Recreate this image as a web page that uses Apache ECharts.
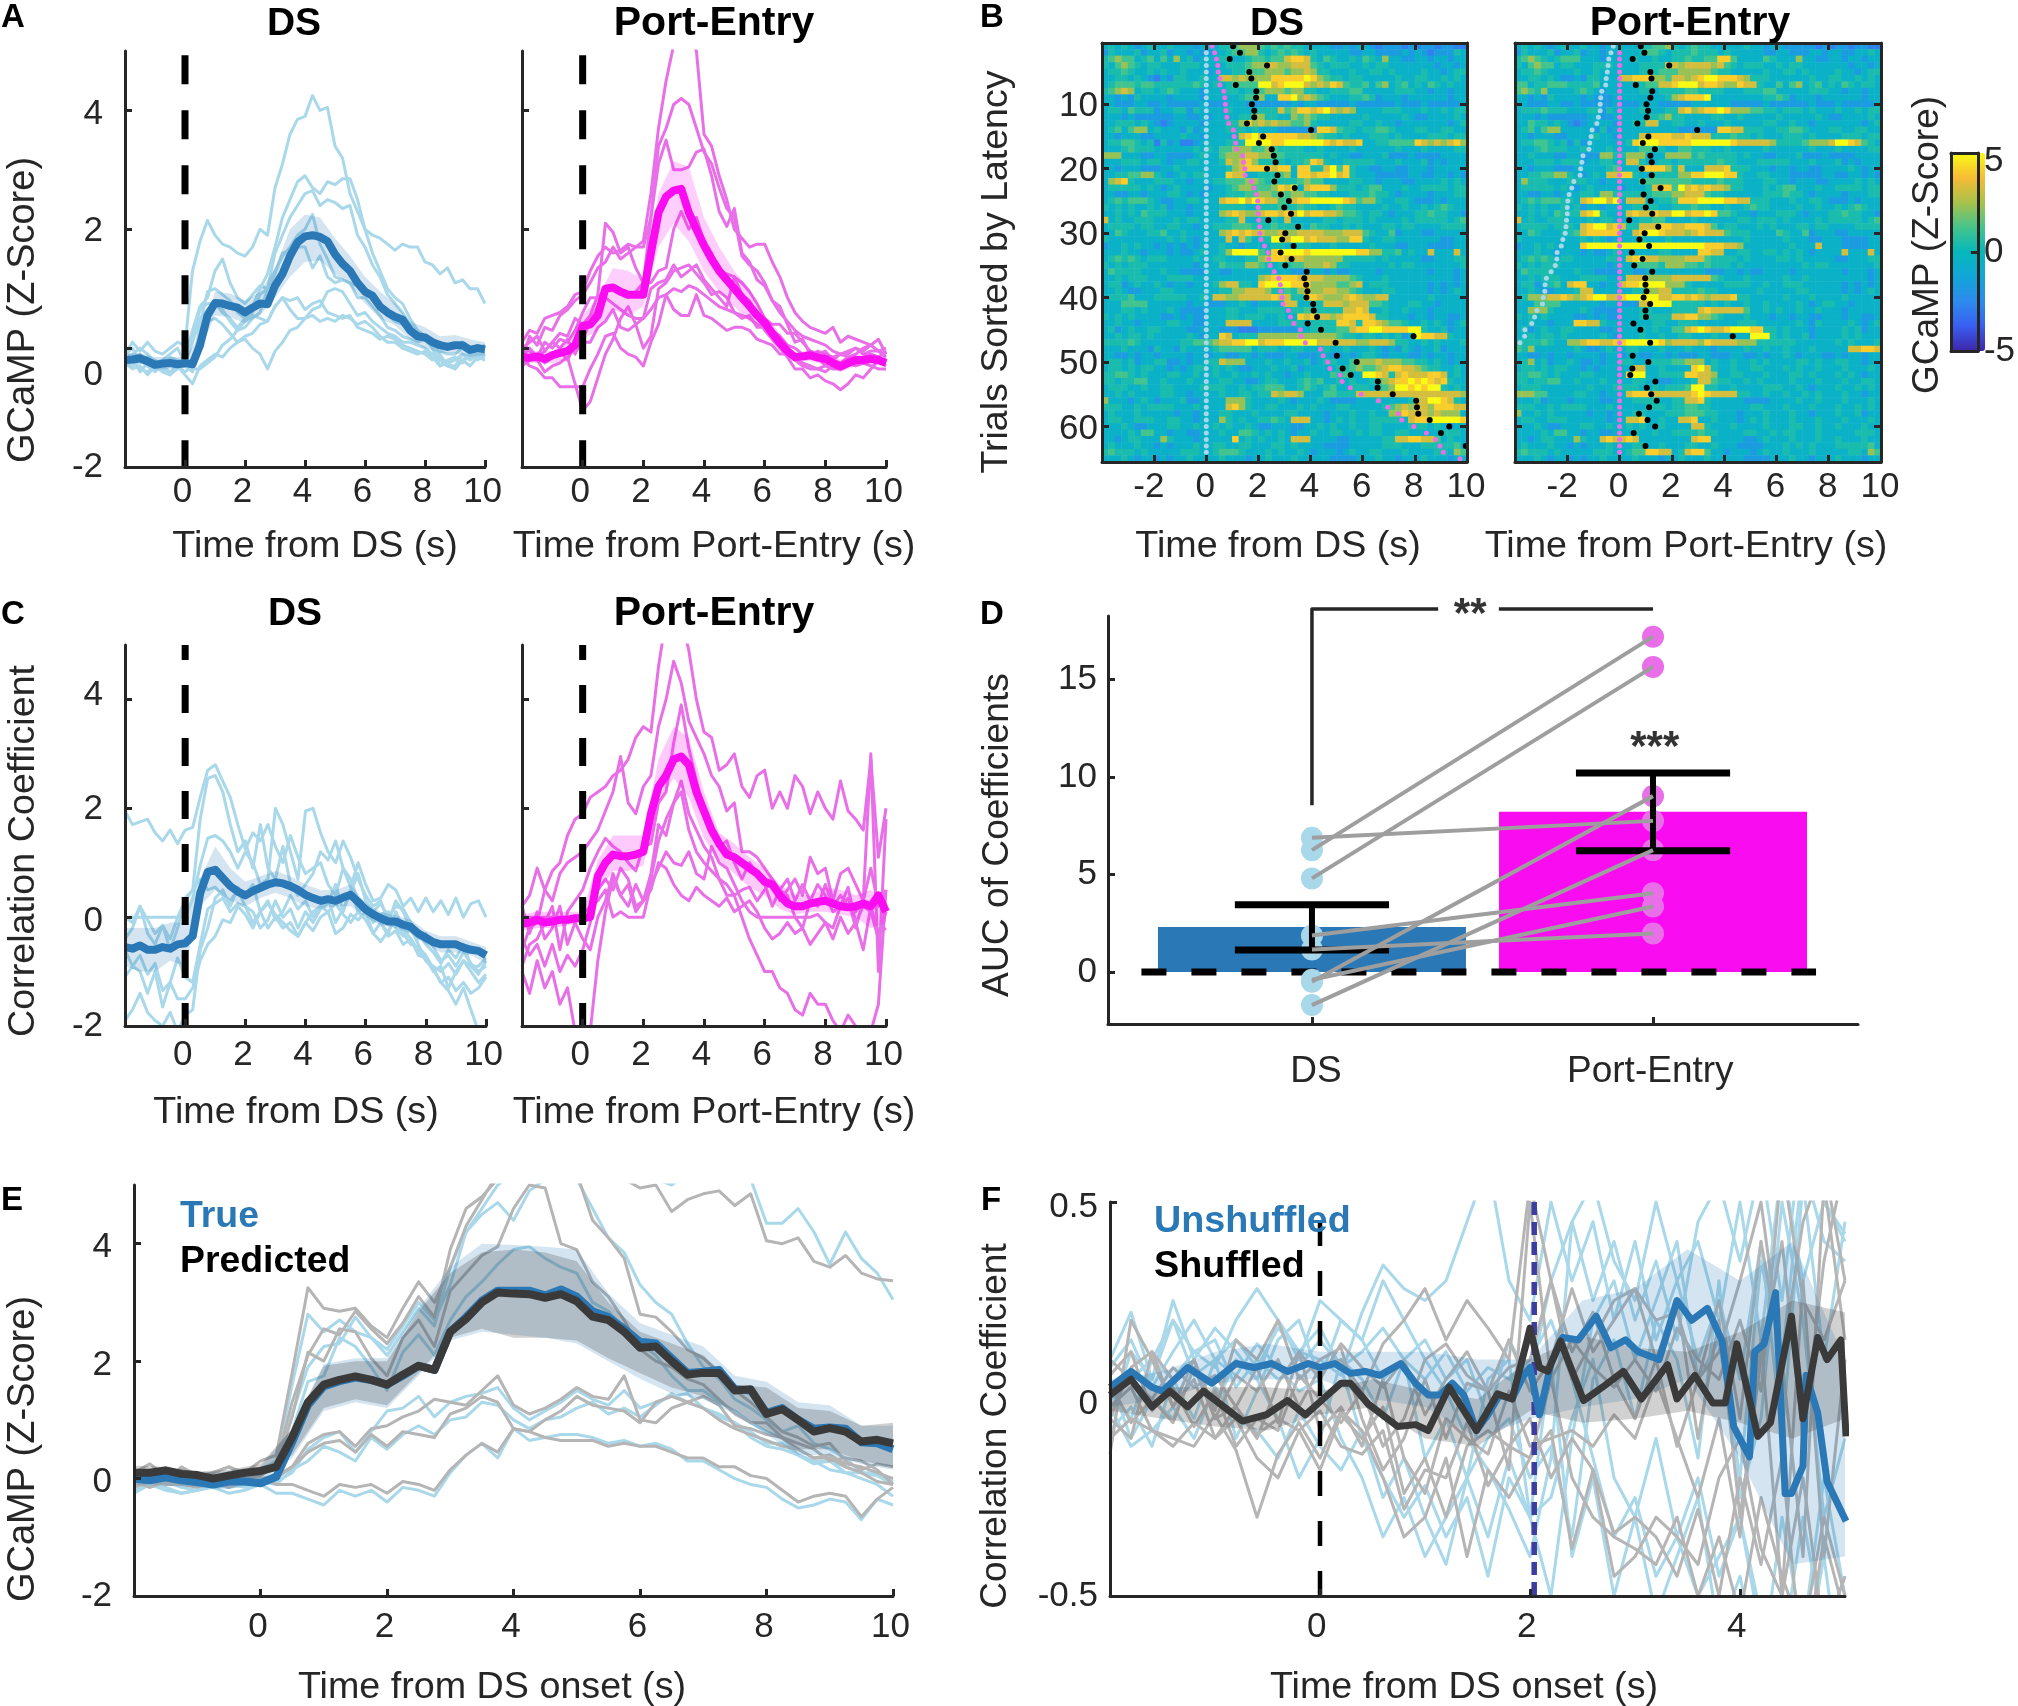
<!DOCTYPE html>
<html><head><meta charset="utf-8">
<style>html,body{margin:0;padding:0;background:#fff}#c{width:2018px;height:1706px}</style>
<script src="https://cdn.jsdelivr.net/npm/echarts@6/dist/echarts.min.js"></script>
</head><body><div id="c"></div>
<script>
// ---- shared tick labels and time bases
const timeQ=[-2,-1.75,-1.5,-1.25,-1,-.75,-.5,-.25,0,.25,.5,.75,1,1.25,1.5,1.75,2,2.25,2.5,2.75,3,3.25,3.5,3.75,4,4.25,4.5,4.75,5,5.25,5.5,5.75,6,6.25,6.5,6.75,7,7.25,7.5,7.75,8,8.25,8.5,8.75,9,9.25,9.5,9.75,10];
const timeH=[-2,-1.5,-1,-.5,0,.5,1,1.5,2,2.5,3,3.5,4,4.5,5,5.5,6,6.5,7,7.5,8,8.5,9,9.5,10];
const timeF=[-2,-1.8,-1.6,-1.4,-1.2,-1,-.8,-.6,-.4,-.2,0,.2,.4,.6,.8,1,1.2,1.4,1.6,1.8,2,2.2,2.4,2.6,2.8,3,3.2,3.4,3.6,3.8,4,4.2,4.4,4.6,4.8,5];
const timeFB=[-2,-1.5,-1,-.5,0,.5,1,1.5,2,2.5,3,3.5,4,4.5,5];
const ticksTime=[0,2,4,6,8,10];
const ticksTimeB=[-2,0,2,4,6,8,10];
const ticksZ=[-2,0,2,4];
const ticksTrials=[10,20,30,40,50,60];
// where each tick label sits on its axis (the reference's labels are slightly off their ticks)
const labelsAtTimeAC=[-.08,1.92,3.92,5.92,7.92,9.92];
const labelsAtTimeE=[-.04,1.96,3.96,5.96,7.96,9.96];
const labelsAtTimeF=[-.03,1.97,3.97];
const labelsAtTimeB=[-2.2,-.04,1.96,3.96,5.96,7.96,9.96];
const labelsAtZA=[-2,-.45,1.97,3.93];
const labelsAtZC=[-2,-.07,1.98,4.08];
const labelsAtZE=[-2,-.07,1.93,3.93];
const labelsAtTrials=[10.4,20.4,30.4,40.4,50.4,60.4];

// ---- panel A, DS
const a1Mean=[-.2,-.19,-.17,-.22,-.28,-.26,-.25,-.27,-.25,-.27,.05,.55,.76,.75,.71,.68,.6,.68,.75,.74,1.05,1.25,1.55,1.78,1.88,1.9,1.87,1.8,1.58,1.42,1.3,1.1,.95,.88,.7,.6,.53,.48,.3,.2,.18,.1,.05,.02,.05,.05,-.03,0,-.02];
const a1Lo=[-.28,-.25,-.36,-.35,-.33,-.05,.55,.52,.42,.55,.85,1.2,1.45,1.48,1.25,1.05,.75,.5,.38,.15,0,-.08,-.08,-.15,-.12];
const a1Hi=[-.1,-.08,-.15,-.15,-.15,.2,.95,.92,.8,.95,1.35,2.0,2.25,2.2,1.85,1.55,1.2,.95,.75,.45,.35,.2,.22,.15,.1];
const a1Tr1=[-.1,.1,-.05,.1,-.05,-.1,0,.1,.05,1.3,1.8,2.15,1.9,1.75,1.7,1.6,1.55,1.7,2,1.9,2.7,3.1,3.6,3.85,3.9,4.25,4,4.05,3.4,3.2,2.6,2.3,2,1.9,1.85,1.75,1.65,1.75,1.7,1.7,1.45,1.4,1.25,1.35,1.1,1.15,1,1,.75];
const a1Tr2=[-.2,-.1,0,-.1,-.25,-.2,-.1,0,-.25,.1,.5,.65,.75,.6,.5,.35,.5,.7,1,1.25,1.7,2.2,2.5,2.8,2.9,2.7,2.6,2.8,2.75,2.85,2.85,2.5,2,1.6,1.3,1,.85,.75,.5,.3,.2,0,-.2,-.3,-.35,-.2,-.3,-.15,-.2];
const a1Tr3=[0,-.2,-.1,-.3,-.3,-.35,-.15,-.2,-.3,-.4,.4,.95,1,.9,.8,.6,.5,.6,.9,1,1.6,1.9,2.2,2.4,2.6,2.65,2.4,2.5,2.45,2.35,2.4,1.9,1.7,1.4,1.2,.9,.75,.6,.4,.3,.2,.1,-.1,-.3,-.3,-.1,-.15,0,0];
const a1Tr4=[-.1,0,-.25,-.15,-.2,-.3,-.2,-.3,-.15,.3,.7,.85,1.3,1.5,1.1,.85,.75,.9,1.05,1,1.3,1.55,1.7,1.9,2,2.25,1.75,1.5,1.2,1.15,1.1,1.05,1,.8,.65,.55,.45,.4,.3,.25,.2,.05,.1,0,0,.1,-.05,.05,0];
const a1Tr5=[-.15,-.2,-.35,-.4,-.3,-.35,-.45,-.3,-.4,-.3,.1,.45,.5,.4,.25,.1,.15,0,-.1,-.35,-.05,.1,.3,.35,.5,.65,.7,.95,1,.95,.75,.55,.6,.45,.35,.25,.2,.1,.1,.05,0,-.1,-.15,-.25,-.2,-.1,-.2,-.1,-.15];
const a1Tr6=[-.2,-.3,-.2,-.3,-.4,-.3,-.4,-.3,-.45,-.6,-.3,-.2,-.1,-.15,0,.1,.2,.25,.4,.45,.7,.85,.8,.85,.65,.75,.8,.6,.55,.5,.55,.35,.3,.25,.15,.2,.15,.05,0,-.05,-.1,-.2,-.05,-.1,-.1,0,-.1,0,.05];
const a1Tr7=[-.3,-.15,-.4,-.25,-.35,-.3,-.25,-.35,-.3,-.35,-.35,-.25,-.15,.05,.15,.3,.45,.55,.5,.45,.7,.85,.65,.5,.5,.55,.45,.5,.45,.55,.5,.4,.45,.35,.2,.1,.1,0,-.05,-.1,-.05,-.15,-.3,-.2,-.15,-.25,-.1,-.1,-.1];
const a1Tr8=[-.25,-.35,-.3,-.45,-.3,-.4,-.45,-.35,-.25,.2,.65,.75,.75,.65,.45,.3,.35,.5,.6,1,1.25,1.6,1.65,1.7,1.7,1.35,1.55,1.2,1.1,1.15,1.1,.85,.85,.7,.55,.35,.3,.2,.15,.1,.15,0,-.3,-.25,-.35,-.2,-.1,-.2,-.1];

// ---- panel A, Port-Entry
const a2Mean=[-.15,-.16,-.14,-.18,-.12,-.08,-.05,.05,.37,.4,.55,1,1.02,.95,.9,.9,.9,1.6,2.28,2.55,2.65,2.68,2.28,2,1.73,1.5,1.3,1.15,1,.85,.71,.55,.43,.25,.09,-.05,-.15,-.14,-.12,-.16,-.18,-.25,-.31,-.25,-.2,-.2,-.18,-.2,-.25];
const a2Lo=[-.25,-.25,-.25,-.2,.15,.3,.65,.55,.7,1.7,2.1,1.8,1.3,.95,.7,.45,.35,.05,-.2,-.22,-.28,-.4,-.3,-.28,-.3];
const a2Hi=[-.05,-.05,-.05,.12,.55,.85,1.35,1.3,1.15,2.6,3.15,3.05,2.2,1.7,1.3,1.0,.55,.25,-.1,-.02,-.08,-.2,-.1,-.08,-.15];
const a2Tr1=[.1,.3,.25,.5,.55,.6,.7,.9,.95,1.3,1.55,1.7,1.6,1.65,1.75,1.7,1.8,2.6,3.7,4.5,5.1,5.5,5.3,5,3.6,3.4,2.9,2.5,2,1.85,1.7,1.75,1.75,1.45,1.2,.85,.6,.45,.35,.3,.25,.35,.1,.2,.15,.1,.05,.15,-.1];
const a2Tr2=[-.2,.2,.05,.35,.3,.55,.65,.8,.9,1.1,1.35,1.45,1.7,1.5,1.6,1.7,1.7,2.2,3.4,3.7,4.1,4.2,4.1,3.7,3.3,3.1,2.7,2.35,2.2,1.55,1.4,1.3,1.1,.8,.6,.45,.3,.2,.15,.1,.05,-.05,-.1,-.1,0,-.05,.05,-.05,0];
const a2Tr3=[-.15,0,-.15,.1,0,.15,.1,.3,.6,.85,.85,1,1.05,.95,.85,.95,1.1,2.2,3.1,3.5,3,3,3.05,3.3,3.35,2.9,2.3,2.05,2.35,1.6,1.45,1.15,1.05,.8,.7,.4,.1,.15,-.1,-.15,-.3,-.35,-.35,-.25,-.3,-.25,-.2,-.2,-.25];
const a2Tr4=[0,-.05,-.15,-.05,.1,.25,.2,.5,.4,.55,.9,2.1,1.95,1.6,1.7,1.35,1.1,1.1,1.3,1.35,2,2.3,2,2.2,1.8,1.6,1.3,1.25,1.2,1.1,.95,.75,.5,.4,.4,.25,.25,.1,-.05,-.1,-.05,-.2,-.1,-.15,-.1,0,.05,-.05,-.15];
const a2Tr5=[-.3,-.2,-.1,-.25,-.15,-.05,-.2,.05,.1,.1,.35,.45,.65,.35,.3,.4,.5,1,1.1,1.15,1.4,1.2,1.3,1.4,1.15,1,.85,.7,1.2,.9,.8,.55,.3,.15,0,-.15,-.35,-.35,-.5,-.45,-.55,-.6,-.7,-.6,-.45,-.5,-.35,-.2,-.3];
const a2Tr6=[-.1,-.2,-.2,-.4,-.3,-.25,-.15,-.6,-1.05,-.9,-.5,-.1,.15,.5,.7,.4,0,.2,1,1.1,1.3,1.35,1.4,1.25,1.1,.9,.95,.85,.6,.5,.55,.35,.35,.2,.1,-.05,-.2,-.25,-.3,-.35,-.4,-.3,-.35,-.3,-.2,-.15,-.1,-.15,-.05];
const a2Tr7=[-.15,-.3,-.35,-.5,-.5,-.65,-.65,-.65,-.65,-.35,-.1,.2,.25,0,-.1,-.15,-.3,.1,.4,.9,.65,.55,.55,.9,.55,.5,.4,.3,.35,.35,.3,.15,.1,.05,-.1,-.1,-.2,-.3,-.35,-.35,-.3,-.2,-.25,-.15,-.2,-.25,-.3,-.35,-.35];
const a2Tr8=[0,.1,.2,-.05,.1,0,.15,-.1,.15,.45,.7,.85,.75,.65,.55,.5,.5,.65,.85,.9,1,.95,1.05,1,.9,.8,.7,.65,.6,.55,.5,.4,.35,.3,.2,.05,0,-.1,-.15,-.05,-.1,-.15,-.1,-.05,0,-.1,-.05,-.05,-.1];

// ---- panel C, DS
const c1Mean=[-.55,-.58,-.52,-.6,-.6,-.55,-.58,-.5,-.48,-.35,.44,.83,.87,.72,.57,.47,.4,.48,.54,.6,.64,.62,.57,.5,.41,.35,.3,.33,.3,.36,.41,.28,.14,.05,-.02,-.08,-.08,-.14,-.18,-.3,-.38,-.46,-.5,-.5,-.5,-.56,-.6,-.62,-.7];
const c1Lo=[-.9,-1,-1,-.8,-.9,.2,.5,.3,.2,.35,.45,.35,.2,.15,.2,.2,0,-.15,-.2,-.3,-.5,-.65,-.65,-.7,-.85];
const c1Hi=[-.2,-.2,-.2,-.1,-.1,.7,1.3,.9,.65,.75,.85,.75,.6,.5,.5,.6,.25,.1,.03,-.05,-.25,-.35,-.35,-.45,-.55];
const c1Tr1=[1.95,1.7,1.75,1.8,1.55,1.4,1.6,1.35,1.6,1.65,2.2,2.7,2.8,2.5,2.2,1.7,1.25,1.55,1.4,1.7,1.3,1,1.5,1.1,.8,.9,1,.6,.4,.9,.7,.3,.2,0,-.1,-.3,.1,-.2,-.4,-.6,-.8,-.95,-1.2,-1.35,-1.6,-1.3,-1.7,-2.1,-2.2];
const c1Tr2=[0,0,0,0,0,0,0,0,0,.35,.95,1.45,1.5,1.4,1.2,.9,1.2,1,.6,.7,2,1.7,1.2,.7,1.95,2,1.55,1.2,1,1.4,1.1,.7,.4,.2,.3,-.1,.3,.1,-.25,-.4,-.3,-.55,-.8,-.7,-.9,-.65,-.85,-1,-.9];
const c1Tr3=[0,-.1,.2,-.05,-.3,-.15,-.4,0,.3,.5,1.8,2.55,2.6,2.3,1.7,1.2,1.4,.9,1.7,.9,.7,1.3,.6,.4,.6,.8,1.2,1.05,1.4,.9,.55,1,.6,.3,.35,.6,.5,.2,.35,.1,.35,.1,.3,.05,.35,0,.25,.3,0];
const c1Tr4=[-.6,-.9,-.7,-1.05,-.85,-1.35,-1.2,-.75,-1.1,-1.2,-.5,.15,.25,.35,.1,.25,.2,.1,-.2,-.05,.3,0,.15,-.2,.1,-.1,.15,.25,.6,.1,.5,.1,.2,-.1,.05,.1,-.2,-.35,-.2,-.5,-.8,-.9,-1,-.85,-1.05,-.8,-1,-1.2,-1.05];
const c1Tr5=[-1.9,-1.7,-1.4,-1.75,-1.9,-2,-1.75,-2.1,-1.8,-1.7,-.6,-.2,.35,.5,.2,.55,.4,.6,.1,.3,-.05,.1,.4,.15,.3,0,.2,.1,.25,.05,-.1,.1,-.05,-.3,-.1,-.35,-.25,-.5,-.4,-.7,-.75,-1,-.9,-1.3,-1,-.8,-.9,-1.05,-.8];
const c1Tr6=[-1.1,-.9,-1,-1.4,-1,-1.65,-1.2,-1.5,-1.5,-1.3,-.8,-.5,-.35,-.05,-.1,.2,.05,-.2,.1,.25,.05,-.1,-.25,-.35,-.1,-.25,0,.1,-.3,-.2,.05,-.05,.1,-.3,-.45,-.25,-.05,-.3,-.5,-.55,-.7,-.95,-1.2,-1.1,-1.35,-1.2,-1.4,-1.3,-1.1];
const c1Tr7=[-.4,-.2,.2,-.3,-.5,-.15,-.6,-.2,.35,.5,.7,.5,.55,.4,.3,.5,.2,-.1,.1,-.2,0,-.2,-.1,-.35,-.1,.1,.2,.35,-.1,.15,.45,.8,.3,.1,.25,0,.2,.15,-.1,-.3,-.5,-.65,-.85,-.6,-.75,-.5,-.9,-.9,-.75];

// ---- panel C, Port-Entry
const c2Mean=[-.12,-.1,-.05,-.1,-.08,-.05,-.05,-.02,-.02,0,.75,1.0,1.15,1.12,1.12,1.15,1.2,1.9,2.4,2.6,2.9,2.95,2.8,2.3,1.95,1.6,1.35,1.15,1.1,1.0,.9,.8,.65,.6,.4,.25,.2,.2,.25,.28,.3,.25,.2,.18,.2,.25,.2,.4,.1];
const c2Lo=[-.25,-.2,-.2,-.15,-.1,.45,.85,.85,.95,2.1,2.55,2.2,1.45,1.05,.8,.55,.4,.15,.05,.1,.1,.05,0,-.2,-.1];
const c2Hi=[.05,.1,.1,.1,.1,1.05,1.5,1.5,1.5,2.9,3.5,3.3,2.3,1.55,1.35,1.1,.9,.6,.4,.4,.55,.5,.4,.5,.3];
const c2Tr1=[.2,.4,.9,.5,.85,1,1.5,1.8,1.9,2.2,2.3,2.4,2.6,2.7,2.9,3.3,3.5,3.4,4.6,5.5,6,5.5,4.9,4,3.4,3.3,2.7,2.8,3,2.4,2.2,2.6,2.7,2,2.3,2,2.6,2.4,1.9,2.3,2,1.8,2.5,1.95,1.8,1.6,2.9,1.1,2];
const c2Tr2=[-.6,-.2,-.1,.5,.3,.8,1,1.1,1.2,1.4,1.6,1.95,2.3,2.95,2.1,1.9,2.4,2.6,3.5,4,4.7,4.3,3.6,3.3,3,2.6,2.4,1.95,2.1,1.2,1.2,1.1,.9,.7,.5,.7,.3,.6,.3,.2,.6,.2,.4,.2,.1,.3,.9,.2,.5];
const c2Tr3=[-.9,-.5,-.4,-.1,.2,-.6,.1,.3,.5,.9,1.2,1.45,1.3,1.2,1,.85,1.3,1.35,2.1,2.3,3.2,3.9,3.1,2.5,2,1.6,1.3,1.4,1,.7,1,.8,.6,.2,.5,.4,0,-.2,.3,.6,.4,.1,.2,.55,-.1,.2,.1,-.4,.1];
const c2Tr4=[-1,-1.4,-.8,-1.3,-1,-1.6,-1.3,-2.1,-2.2,-2.1,-.8,.1,.7,.4,.2,.6,.3,.7,1.4,1.8,2.1,2.5,1.9,1.6,1.3,1.1,.7,.4,.4,0,-.4,-.7,-1,-1,-1.3,-1.4,-1.7,-1.8,-1.4,-1.6,-1.6,-1.9,-2.1,-1.8,-2,-2.2,-2.1,-1.6,.5];
const c2Tr5=[0,0,0,0,0,0,0,0,.05,.2,.3,.5,0,.1,0,0,0,.6,.9,1.2,1,.95,1.2,.8,.7,1.3,1,.9,.6,.3,.1,0,0,0,0,0,0,0,0,.05,-.1,-.2,.2,.35,-.2,.3,.1,-.3,.1];
const c2Tr6=[-.4,-.7,-.5,-.9,-.5,-1,-.7,-.9,-.6,-.1,.5,.7,.5,.9,.7,.2,.3,.5,1,.9,.6,.4,.3,.55,.4,.3,.2,.35,.1,.2,.3,.1,-.2,-.4,-.3,-.1,-.3,-.2,-.5,-.3,-.1,-.4,0,-.3,-.1,-.6,.2,-.3,-.2];
const c2Tr7=[.2,-.3,.1,-.4,-.2,.2,-.5,-.1,-.4,-.6,0,.3,.8,.4,.6,.1,.3,.8,1.7,1.5,2.1,2.3,1.6,1.2,1,.85,.7,.6,.4,.5,.55,.3,.5,.7,.3,.5,.7,.4,1.1,.8,.9,.3,.8,.9,.6,.3,3,-1,1.8];

// ---- panel D
const dXTicks=[0,1];
const dXLabelsAt=[.012,.992];
const dXLabels=['DS','Port-Entry'];
const dYTicks=[0,5,10,15];
const dBars=[2.31,8.22];
const dErrLo=[1.12,6.22];
const dErrHi=[3.45,10.2];
const dPointsDS=[6.25,4.8,6.88,-.5,-1.7,1.87,1.15,-.4];
const dPointsPE=[17.2,15.65,7.75,9.02,6.25,4.04,1.97,3.36];

// ---- panel E
const eTrueMean=[0,-.03,.02,-.03,-.06,-.1,-.05,-.05,-.08,.03,.62,1.25,1.57,1.66,1.72,1.68,1.6,1.75,1.92,1.85,2.5,2.75,3.03,3.2,3.2,3.2,3.12,3.22,3.1,2.85,2.75,2.55,2.33,2.3,2.05,1.8,1.82,1.85,1.52,1.5,1.12,1.2,1,.85,.87,.85,.62,.6,.5];
const ePredMean=[.1,.1,.14,.08,.06,0,.05,.1,.13,.2,.7,1.3,1.6,1.68,1.74,1.68,1.6,1.77,1.92,1.85,2.5,2.72,3,3.17,3.15,3.14,3.08,3.14,3.02,2.76,2.7,2.5,2.23,2.25,2,1.77,1.8,1.8,1.5,1.52,1.1,1.18,1,.8,.86,.8,.63,.66,.6];
const eTrueHi=[.15,.12,.1,.12,.2,.85,1.95,2.05,2.05,2.9,3.6,4,3.98,3.95,3.9,3.15,2.65,2.45,2.25,1.75,1.65,1.3,1.25,.9,.9];
const eTrueLo=[-.12,-.12,-.15,-.18,-.05,.35,1.15,1.3,1.2,1.75,2.35,2.5,2.45,2.4,2.3,2.0,1.7,1.45,1.35,1.1,.75,.4,.4,.25,.15];
const ePredHi=[.22,.2,.12,.15,.25,.85,1.92,2,2,2.85,3.5,3.85,3.9,3.85,3.7,3,2.5,2.3,2.1,1.6,1.55,1.2,1.15,.9,.95];
const ePredLo=[0,-.02,-.08,-.05,.02,.4,1.2,1.35,1.25,1.8,2.4,2.55,2.4,2.4,2.35,2.05,1.8,1.55,1.4,1.15,.8,.5,.5,.3,.2];
const eTrue1=[-.15,0,-.1,.05,-.05,0,.1,0,.15,.3,1.6,2.8,2.5,2.7,2.5,2.4,2.2,2.6,3,2.7,3.3,4.2,4.6,5,5.2,5.4,5.6,5.4,5.3,5.1,5.1,5.2,5.2,5.1,5,5.2,5.4,5.5,5.2,5.1,4.35,4.35,4.6,4.2,3.65,4.2,3.75,3.5,3.05];
const ePred1=[-.05,.1,-.05,.2,.05,.1,.2,.1,.3,.4,1.8,3.25,2.9,2.85,2.9,2.6,2.4,2.9,3.35,3,3.6,4.3,4.75,5.2,5.4,5.6,5.8,5.7,5.5,5.2,5.1,5.1,4.95,5,4.55,4.75,4.85,4.9,4.65,4.85,4.05,4,4.1,3.7,3.6,3.8,3.5,3.4,3.37];
const eTrue2=[-.1,.05,.1,-.05,-.1,-.05,0,.05,-.1,.1,1.1,1.9,2.25,2.3,2.75,2.4,2.1,2.5,2.9,2.6,3.6,4.2,4.5,4.7,4.4,4.9,5.1,5.2,5.1,4.6,4.1,3.85,3.3,3,2.8,2.3,1.9,1.7,1.35,1.2,1,.8,.9,.6,.5,.35,.1,.05,0];
const ePred2=[.1,.25,.05,.15,-.05,.1,.2,.05,.1,.25,1.3,2.1,2.55,2.45,2.85,2.55,2.3,2.65,3.1,2.75,3.9,4.6,4.8,5.1,5.3,5.1,5.2,5.4,5.2,4.4,4.1,3.75,2.8,2.75,2.5,2.2,2.05,1.8,1.5,1.3,1.05,.8,.7,.55,.6,.3,.15,.25,.2];
const eTrue3=[-.05,-.15,-.05,-.15,-.2,-.1,-.15,-.1,-.05,.1,.8,1.65,1.75,2.4,2.25,1.9,1.5,2.15,2.45,2.1,2.7,3.1,3.35,3.65,3.9,3.95,3.75,3.6,3.5,3,2.85,2.55,2.3,2.1,1.75,1.5,1.5,1.3,1.15,.95,.8,.7,.4,.25,.3,.1,0,-.1,-.3];
const ePred3=[.1,0,.05,0,-.05,.05,0,.1,.05,.2,1.05,2.15,2,2.55,2.5,2.05,1.75,2.4,2.7,2.25,3.2,3.5,3.8,3.95,4.6,5,4.95,4,3.9,3.35,3.1,2.7,2.2,2,1.9,1.7,1.6,1.35,1.1,.95,.95,.7,.5,.35,.35,.2,.1,-.05,-.1];
const eTrue4=[-.2,-.1,-.15,-.25,-.2,-.1,-.15,-.05,-.1,-.05,.1,.5,.7,.8,.45,.8,1.15,1.2,1.4,1.05,1.3,1.4,1.45,1.55,1.2,1,1.15,1.3,1.5,1.35,1.25,1.5,1.2,1.3,1.4,1.45,1.2,1.1,.95,.8,.6,.6,.4,.3,.15,.1,.1,.1,-.05];
const ePred4=[-.05,-.15,-.05,-.1,-.1,-.05,-.05,.05,0,.05,.2,.6,.75,.8,.55,.85,.9,1.05,1.15,1.35,1.3,1.25,1.5,1.75,1.25,1.1,1.2,1.35,1.55,1.4,1.35,1.75,1,.95,1.2,1.3,1.4,1.25,.9,.85,.75,.7,.6,.5,.3,.35,.3,.15,-.1];
const eTrue5=[-.1,0,-.1,-.05,-.15,-.15,-.1,-.15,-.05,-.1,.15,.3,.55,.45,.3,.7,.5,.75,.9,.75,1,1.05,1.3,1.25,1,.85,1,1.05,1.2,1.3,1.1,1.2,1.05,1.25,1.45,1.3,1.2,1.05,.95,.7,.55,.5,.4,.3,.3,.2,.1,.05,-.1];
const ePred5=[0,.05,-.05,0,-.1,-.05,-.05,-.1,0,0,.2,.45,.6,.65,.45,.75,.55,.8,.75,.7,1.1,1.2,1.4,1.3,.85,.8,1,1.15,1.4,1.25,1.2,1.15,.95,1.3,1.4,1.3,1.2,1,.85,.75,.65,.55,.5,.35,.4,.25,.2,.1,0];
const eTrue6=[-.25,-.1,-.2,-.25,-.2,-.15,-.25,-.2,-.1,-.25,-.25,-.35,-.45,-.2,-.3,-.2,-.4,-.15,-.2,-.3,.1,.4,.6,.35,.85,.65,.7,.75,.75,.7,.6,.65,.55,.6,.5,.3,.3,.15,0,-.1,-.15,-.35,-.5,-.45,-.35,-.4,-.7,-.35,-.45];
const ePred6=[-.15,-.05,-.1,-.1,-.15,-.05,-.15,-.05,0,-.1,-.1,-.2,-.3,-.1,-.15,-.1,-.25,-.05,-.1,-.2,.15,.4,.6,.45,.85,.8,.7,.65,.65,.65,.55,.6,.55,.55,.45,.35,.35,.2,.2,.05,0,-.2,-.4,-.3,-.25,-.3,-.65,-.35,-.15];

// ---- panel F
const fUTime=[-2,-1.8,-1.6,-1.5,-1.26,-1.03,-.8,-.63,-.46,-.31,-.11,0,.14,.29,.43,.57,.77,.91,1.03,1.14,1.26,1.37,1.49,1.6,1.71,1.83,1.94,2,2.09,2.2,2.31,2.46,2.63,2.77,2.91,3.03,3.23,3.4,3.54,3.69,3.83,3.94,4.09,4.14,4.23,4.34,4.43,4.49,4.6,4.63,4.74,4.83,5.01];
const fUVal=[.03,.07,.03,.02,.08,.04,.09,.08,.09,.07,.09,.08,.09,.065,.07,.06,.09,.04,.01,.01,.04,.01,-.08,-.04,.01,0,.06,.08,-.04,.09,.156,.15,.21,.13,.15,.12,.1,.25,.2,.23,.147,-.07,-.147,.12,.14,.27,-.24,-.24,-.17,.06,-.035,-.21,-.31];
const fSTime=[-2,-1.8,-1.6,-1.43,-1.26,-1.11,-.74,-.51,-.31,-.14,.03,.2,.29,.46,.74,.91,1.03,1.23,1.49,1.69,1.83,1.97,2,2.09,2.17,2.29,2.51,2.69,2.89,3.06,3.31,3.4,3.57,3.74,3.86,3.97,4.17,4.29,4.49,4.6,4.74,4.83,4.96,5.01];
const fSVal=[.01,.05,-.02,.02,-.02,.02,-.056,-.04,-.004,-.04,0,.04,.04,-.013,-.07,-.065,-.08,.03,-.08,.013,0,.147,.18,.08,.07,.147,-.004,.03,.07,0,.087,0,.06,-.01,-.01,.14,-.095,-.06,.21,-.05,.156,.1,.15,-.095];
const fULo=[-.02,0,.04,.05,.05,0,-.02,-.1,-.05,-.02,0,.05,-.15,-.42,-.4];
const fUHi=[.05,.07,.12,.14,.12,.12,.12,.1,.1,.25,.28,.38,.3,.4,.1];
const fSLo=[-.03,-.05,-.07,-.08,-.04,-.02,-.1,-.12,-.03,-.06,-.05,-.03,-.06,-.1,-.05];
const fSHi=[.04,.03,.03,.03,.02,.05,.02,0,.1,.16,.13,.12,.17,.25,.22];
const fB1=[-.05,.12,.05,.2,.06,.1,.15,.08,.18,.12,.1,.06,.22,.34,.28,.25,.3,.45,.6,.3,.2,.5,.3,.45,.2,.4,.15,.3,.1,.25,.05,.4,-.1,.55,.1,.45];
const fB2=[.02,-.05,.1,.05,.12,.08,.2,.28,.2,.12,.18,.08,-.1,-.2,-.3,-.22,-.35,-.25,-.45,-.2,-.3,.1,-.4,-.2,-.5,-.3,-.55,-.4,-.25,-.6,-.45,-.7,-.3,-.6,-.2,-.5];
const fB3=[.1,.22,.05,.25,.1,.18,.12,.05,.2,.1,.25,.2,.15,.05,.1,.15,.05,.1,-.05,.15,.05,.3,.45,.55,.35,.25,.5,.3,.4,.2,.5,.15,.6,.3,.5,.4];
const fB4=[-.08,-.02,-.12,.05,-.05,.1,-.1,.02,.15,.2,.05,-.1,-.2,-.35,-.25,-.4,-.3,-.2,-.35,-.15,-.3,-.25,-.05,.1,-.2,-.3,-.1,-.35,-.2,-.45,-.3,-.6,-.5,-.7,-.4,-.8];
const fB5=[.05,-.1,0,-.05,.08,-.02,.1,.05,-.05,-.2,-.1,.1,.05,-.05,.1,-.15,-.05,-.2,.05,.1,-.3,-.5,-.1,.2,.3,.1,.25,.4,.05,.15,-.2,.35,.1,.6,.4,.35];
const fB6=[0,.05,.1,.2,.12,.15,.03,.1,.05,.08,.15,.08,.12,.18,.1,.05,.12,.02,.08,.05,.1,.2,.05,-.15,-.35,-.25,-.45,-.35,-.5,-.4,-.3,-.55,-.65,-.3,-.6,-.45];
const fB7=[-.02,-.12,-.08,-.02,-.1,.03,-.05,-.08,-.15,-.03,-.12,-.18,-.08,-.25,-.15,-.3,-.42,-.2,-.1,-.05,-.2,-.12,-.35,.05,.15,-.05,.2,.1,-.15,.3,-.25,-.05,.5,.2,-.3,-.1];
const fB8=[.08,.15,.03,.12,.2,.1,.06,.14,.08,.02,.05,.2,.15,.3,.2,.1,.02,-.1,-.18,-.28,-.4,-.15,.45,.25,.4,.2,.35,.15,.45,.55,.35,.6,.25,.7,.5,.42];
const fG1=[-.14,.2,.1,-.02,.1,-.05,.06,.02,.1,-.02,.08,.1,.02,.14,.2,.28,.15,.25,.18,.1,.55,.3,.05,.15,.25,.28,.2,.22,.05,.12,.3,.5,.1,.45,.6,.3];
const fG2=[-.02,.03,-.08,-.1,-.12,-.04,-.13,-.3,-.14,-.06,-.15,-.03,-.08,-.2,-.35,-.3,-.15,-.4,-.18,-.25,-.15,.05,-.2,-.3,-.35,-.38,-.42,-.3,-.5,-.35,-.55,-.25,-.45,-.6,-.3,-.5];
const fG3=[-.05,.08,.12,.05,.1,-.03,.15,.1,.2,.05,.1,.13,-.05,-.18,-.1,.05,-.1,.04,.02,.08,.1,.3,.12,.22,.05,-.05,.1,-.12,.05,.25,-.05,.4,.1,-.4,.55,.15];
const fG4=[-.1,-.05,-.08,-.12,-.06,-.1,-.02,-.09,-.05,-.08,-.03,-.12,-.14,-.08,-.28,-.18,-.2,-.06,-.22,-.12,-.15,-.08,-.38,-.18,-.45,-.4,-.3,-.35,-.42,-.2,-.1,-.38,-.5,-.2,-.6,-.45];
const fG5=[.1,.05,0,.08,.03,.06,-.02,.08,-.06,.12,.05,.14,.08,.03,.1,-.04,.05,.12,.02,.15,.02,.1,.28,.12,.2,.28,.1,.25,-.1,.2,-.3,.1,.4,-.1,.35,.6];
const fG6=[.04,-.06,0,-.06,.08,-.05,-.02,-.1,.04,.12,-.08,-.02,-.12,.05,-.15,-.24,-.05,-.1,-.14,.02,-.12,-.1,-.08,-.12,-.04,-.1,.05,-.1,-.25,-.05,-.35,.15,-.5,.3,-.4,.1];
const fG7=[.06,.12,-.03,.03,-.07,.02,-.12,-.05,-.08,.06,0,-.06,.02,-.12,-.05,.1,.14,.06,.02,-.18,.5,.05,.15,.08,.03,.1,.02,.18,.1,.05,.2,.02,.6,.25,.15,.3];
const fG8=[-.05,-.1,.12,-.02,.05,-.1,-.05,-.15,-.2,-.08,-.18,-.04,-.1,-.02,-.24,-.15,-.3,-.12,-.08,-.12,-.05,-.2,-.1,-.18,-.34,-.3,-.35,-.45,-.28,-.5,-.2,-.42,-.15,-.7,-.35,-.55];

// ---- panel B, sorted-trial events
const b1Black=[1.03,1.29,.9,2.33,1.65,1.73,1.13,1.92,1.91,1.75,1.84,1.84,1.56,4.02,2.18,2.02,2.51,2.59,2.66,2.33,2.73,2.61,3.39,2.86,3.17,2.99,3.25,2.38,3.52,3.03,2.91,3.35,2.85,3.27,3.03,3.85,3.76,3.83,3.88,3.84,4.1,4.12,4.25,3.89,4.4,7.95,4.96,null,5.01,5.77,5.23,5.54,6.58,6.57,7.15,8.05,8.08,8.13,8.57,9.32,9,null,9.95,null,null];
const b1Pink=[.22,.32,.39,.44,.46,.52,.52,.67,.71,.73,.75,.79,.86,1.04,1.07,1.13,1.16,1.39,1.43,1.48,1.49,1.73,1.83,1.92,1.97,1.99,2,2.01,2.05,2.06,2.1,2.23,2.37,2.4,2.45,2.61,2.78,2.84,2.85,2.91,2.94,3.15,3.23,3.36,3.61,3.63,3.8,4.38,4.48,4.66,4.74,5.13,5.21,5.52,5.94,6.6,6.96,7.37,7.5,7.96,8.44,8.79,8.96,9.09,9.73];
const b2Black=[.81,.95,.5,1.9,1.18,1.22,.62,1.25,1.18,1.03,1.09,1.04,.68,2.97,1.1,.89,1.35,1.18,1.23,.85,1.23,.89,1.57,.92,1.19,1,1.25,.37,1.48,.96,.76,1.13,.47,.88,.56,1.25,.98,.99,1.03,.92,1.17,.99,1.01,.53,.8,4.33,1.17,null,.5,1.1,.49,.41,1.37,1.04,1.21,1.42,1.13,.74,1.07,1.36,.54,null,.99,null,null];
const b2Blue=[-.24,-.33,-.41,-.44,-.47,-.51,-.53,-.68,-.72,-.74,-.74,-.81,-.87,-1.05,-1.09,-1.14,-1.17,-1.4,-1.44,-1.49,-1.51,-1.75,-1.83,-1.93,-1.98,-2,-2,-2.03,-2.05,-2.08,-2.17,-2.23,-2.39,-2.4,-2.46,-2.62,-2.8,-2.85,-2.86,-2.92,-2.95,-3.16,-3.25,-3.36,-3.62,-3.63,-3.81];

// ---- panel B heat rows: one digit per 0.25 s from -4 s to 10 s, digits index heatLevels
const heatLevels=[-3.75,-2.8,-1.7,-.5,.4,1.2,2.3,3.2,4.1,5];
const heatDS=[
"34343234 33433323 33445666 54545443 33322323 32122212 12212211",
"24333423 34233232 23345566 43454543 43333322 33222232 32122243",
"45655345 35363423 33443345 54557887 43543343 54363322 33233233",
"43565434 43334443 33344456 67766777 54344433 43443333 33323323",
"34454334 34334333 23334455 56665667 64433343 34434333 34332344",
"33443432 13244334 33776766 66888889 86544344 33333433 44334343",
"34555455 44444454 34345555 99789997 67687544 53563453 43543433",
"45676344 34543332 33344344 56665664 43344455 33333444 33233233",
"33232433 33233332 33333455 63388967 65433344 54233323 33333233",
"33222332 23222223 22233322 22222323 32222232 22222322 23222223",
"34435444 23344243 33343333 44475688 78976763 33344433 34334344",
"33323222 22233223 23333446 64433656 54433333 43333343 22333343",
"33444343 21233332 33344686 76766556 43333344 33433233 33333234",
"34535663 43332423 33344434 33322222 28875443 44554333 44334433",
"33233322 33334332 33333789 78888877 65443433 34443433 33444344",
"34455434 14231123 33344499 99889999 99878778 33445555 87676786",
"33345444 33333343 43556665 56544443 34333343 33333433 34333344",
"66633322 33222234 33566677 66554444 44343322 33342223 22223333",
"33344434 43233443 33476786 44443445 87433444 44333433 34232333",
"33233322 23343333 33346788 88788388 44795843 32233223 33233333",
"33445566 43234344 33387733 44456388 78897843 33222223 32233232",
"36784333 44433233 34455566 54544456 55333344 33233322 33334343",
"34444434 32343333 23345665 55687937 88864443 45533343 34444344",
"33223323 33443232 33344455 66565665 54433344 45443233 33233344",
"34545554 32233443 33788979 87755788 99999875 66433443 22232333",
"43434334 34233233 33444433 44454454 43345443 33343343 34345433",
"33434354 44333233 33678766 78878797 88776554 34432333 44544332",
"73433444 33343443 33344733 43437333 33443444 34333343 44444345",
"34444344 33443323 34445554 44544443 54433434 33344344 33334444",
"33543334 45334333 33678787 76676677 77666777 54335233 32233333",
"43333333 33434323 33373753 44997997 87776688 43344333 33332233",
"23343433 23232323 33433233 33443344 33343333 34333223 33222233",
"33343323 33232234 33469999 54899998 99999998 86644534 33733373",
"34545434 44333343 34433344 67887776 66666444 44343333 32233344",
"43434443 33333323 33544466 54344556 66764433 33334344 33333334",
"35444433 34332222 33223333 33333222 33232233 33233333 33233323",
"33434443 33444433 33333333 67888877 77666654 33343333 33333323",
"34423433 43233233 34677443 89999888 66665567 34443333 33232323",
"33432233 34433333 33446677 76445467 66776654 33344333 33232343",
"34445333 44444334 37766777 77877448 87666787 66773333 33433333",
"33355553 33333233 22233432 33337733 44777677 75543334 43323333",
"33344343 33432222 33344333 44443445 44444778 73343343 33233333",
"43434333 32232322 33344344 43343387 87767888 87443332 33233223",
"33433233 33443322 33377773 33344443 44448874 88765543 34343234",
"34234334 43333223 33222111 22222233 44445578 89988889 94334233",
"33434434 33333432 33873444 66666666 66665443 44343423 98877433",
"44445433 33334455 56778899 78889999 97777776 67776443 34343334",
"33343332 43324333 34555553 44433443 33433433 34323243 23342333",
"33223233 23333233 23322332 32223322 23322323 44323332 23233233",
"34434233 44223233 44766633 34334334 23443356 66766655 44343233",
"34434344 33232344 34343223 33433423 33334456 55678877 65443343",
"44554343 33443343 34334334 34332334 33354533 99874787 77887343",
"44344553 34333433 33443322 34433345 45334343 34567889 89878433",
"34443343 34433334 44433434 45553345 43453344 43456998 98994343",
"33434333 34433233 33433443 44767763 33554447 77777777 77777776",
"63332343 23334223 33366643 33343233 34322223 33433334 77998743",
"44433434 44433343 33378643 34433343 43334433 33345676 77688877",
"34333433 33323323 33443334 33334433 33233343 34336687 77676663",
"34433444 33443323 33643433 44543777 33234343 34444437 88999998",
"33343223 33443343 34343343 22333223 34343343 34433334 44343233",
"33334355 33233223 33433554 34343233 43344334 34433443 33334443",
"33234433 36433323 33338343 43343777 33332233 33344778 87753433",
"34333433 23233343 34433443 33443433 33222233 33344433 34444453",
"45444343 33334443 34555433 34343343 23332343 34433343 33344365",
"33343233 23233433 33433323 34333433 33322223 33433233 34333233"];
const heatPE=[
"34343234 33433233 33344556 43454433 33343323 32222212 12212211",
"24333423 34233233 33345543 44454443 43333322 33222332 33223343",
"45654345 55333233 33433433 44544558 85333354 33363322 33233233",
"43565534 43334443 33344447 76777767 54344433 43443333 33323323",
"34454333 34334333 33344455 56666654 43333343 34434333 34332344",
"33443432 23244333 77888665 77678998 88764443 33333433 44334343",
"55344555 44445333 33345577 89997887 66877433 53563453 43543443",
"56546333 34543233 33344344 44554444 33344455 33333444 33233233",
"33232433 33232223 33333334 67888933 33333344 54233323 33333233",
"33222332 23222223 22233322 22233333 32222232 22222322 23222223",
"34445444 33344243 33343334 47867889 86665544 34443433 34334344",
"33323222 22233223 33334456 44333344 33433333 43333343 22333343",
"33544343 21233332 33447733 44334333 43333344 33433233 33333234",
"34535663 33332423 33333333 32222228 87744433 44554333 44334433",
"33233322 33334332 33377888 77877744 45443433 34443433 33444344",
"34455434 24233333 34899988 88899999 98777776 44445666 79987543",
"33345444 33433343 33355443 35544433 43333343 33333433 34333344",
"33433322 33222664 46663336 66645444 44343322 33342223 22223333",
"33344434 44233443 37743344 34444445 44333444 44333433 34232333",
"33233322 23333345 33378886 47333777 84443332 33233223 33343233",
"33445566 43234377 88433444 46688999 88433443 33222223 32233232",
"36444333 44433233 33355555 55544445 44433344 33233322 33334343",
"34444434 32343333 23334788 59787877 64433343 45533343 34444344",
"33223323 33443664 44444555 66777544 33333344 45443233 33233344",
"34545554 43789979 37773344 58889999 88774443 33433443 22232333",
"43434334 34233233 33444433 44454433 43345443 33343343 34345433",
"33434354 44789433 37877877 99788985 54332333 44432333 44544332",
"73433444 33343443 33344553 33343333 33443444 34333343 44444345",
"34444344 43789978 74477788 77888753 44333434 33344344 33334444",
"33543334 45788888 33789987 77678777 54443333 54335233 32233333",
"43333333 33434323 33343334 33333333 33343333 34333223 33222233",
"23343433 33899999 99999999 99999888 77633333 33433373 33222233",
"33343323 33232234 33333344 33338877 33443344 34343233 33733373",
"34545434 43333344 37897766 66777544 44343333 44343333 32233344",
"43434443 33333323 33555546 66554544 43433333 33334344 33333334",
"35444433 34332222 33223333 33333222 33232233 33233333 33233323",
"33434443 33444433 37776666 77777754 33343333 34334333 33333323",
"34423453 78833233 78899996 66433333 44443343 34443333 33232323",
"33432233 34773333 33446677 44445443 33333433 33344333 33232343",
"34666778 76789977 89999977 88787677 78443333 34333433 33433333",
"33355553 33333233 22277999 44444343 43343343 33343234 43323333",
"33666433 33432222 33344333 44447877 77753343 43343343 33233333",
"43434333 32232322 33344444 77886654 33343332 33233223 33233223",
"33433233 38877433 33333443 34443333 33444333 33343243 33343234",
"34234334 43333223 33343433 55789877 89998844 34333233 33434233",
"33434434 33333432 33343343 34433343 33339994 34334233 33434333",
"44445433 66788778 89999986 77776877 77666444 44433333 34343334",
"54633333 34322343 34433343 33433323 33343343 34333433 33377887",
"33223233 23333233 23322332 32223322 23322323 34323332 23233233",
"34634233 43223233 44334444 55666343 34334343 33344343 34433233",
"34434344 33232333 33773343 33389743 34334433 34343343 33433343",
"44554343 33443333 38993344 44887763 34433343 33443433 34343233",
"44344553 34333433 33443322 33347754 43343433 33433343 33433443",
"34443333 33343334 44433434 44599443 34333344 43343233 34334343",
"66655333 34433233 37888777 77789877 77443343 34334343 33433233",
"33342333 23333223 33444433 44778433 33322223 33343343 33433343",
"44433434 44433343 33334443 44554433 33334433 34333433 34334343",
"63343433 33323323 33443334 44555443 33233343 33433233 34334233",
"34433444 33333323 37783343 37783343 33234343 33433343 33433343",
"33343223 33443343 34343343 33377433 34333343 33443343 34333433",
"33334355 33233223 33433433 44445443 33344334 34433343 33334443",
"33234433 36433787 78733333 33378833 33322343 33433343 34333433",
"34333433 23233343 33443343 33443343 33222233 34343433 34444453",
"45444343 33334443 34558877 34788533 23332343 34333433 33344365",
"33343233 23233433 33433323 34333433 33322223 33433233 34333233"];
const parula=['#3e26a8','#3a5ef0','#2d8bee','#12a6d8','#05b8bc','#45c48c','#a8c24a','#f7bb35','#f9fb15'];

// ---- styling
const INK='#262626', FONT='"Liberation Sans", Arial, sans-serif';
const LB='#a9d8ea', BLUE='#2a78b5', LM='#e96fe9', MAG='#fa0cf0', LG='#b5b5b5', DG='#3a3a3a';

const grids=[], xAxes=[], yAxes=[], series=[], graphics=[];
function grid(l,t,r,b){grids.push({left:l,top:t,width:r-l,height:b-t,show:false,containLabel:false});return grids.length-1;}
function axis(g,pos,min,max,ticks,labelAt,labels,margin,extra,fs){
  return Object.assign({type:'value',gridIndex:g,position:pos,min,max,splitLine:{show:false},z:10,
    axisLine:{show:true,onZero:false,lineStyle:{color:INK,width:3}},
    axisTick:{show:ticks.length>0,inside:true,length:7,customValues:ticks,lineStyle:{color:INK,width:3}},
    axisLabel:labels?{show:true,customValues:labelAt,formatter:v=>labels[labelAt.indexOf(v)],margin,color:INK,fontFamily:FONT,fontSize:fs||35,showMinLabel:true,showMaxLabel:true,hideOverlap:false}:{show:false}
  },extra||{});
}
function addX(a){xAxes.push(a);return xAxes.length-1;}
function addY(a){yAxes.push(a);return yAxes.length-1;}
function line(ax,x,y,color,width,z,extra){
  const d=[];x.forEach((v,i)=>d.push([v,y[i]]));
  series.push(Object.assign({type:'line',xAxisIndex:ax[0],yAxisIndex:ax[1],data:d,showSymbol:false,symbol:'none',silent:true,animation:false,z:z,
    lineStyle:{color,width,cap:'butt',join:'round'}},extra||{}));
}
function dashed(ax,x,y,color,width,pat,offset,z){
  const d=[];x.forEach((v,i)=>d.push([v,y[i]]));
  series.push({type:'line',xAxisIndex:ax[0],yAxisIndex:ax[1],data:d,showSymbol:false,symbol:'none',silent:true,animation:false,z:z,
    lineStyle:{color,width,type:pat,dashOffset:offset||0,cap:'butt'}});
}
function band(ax,x,lo,hi,fill,z){
  series.push({type:'custom',xAxisIndex:ax[0],yAxisIndex:ax[1],silent:true,animation:false,z:z,clip:true,
    data:x.map((v,i)=>[v,lo[i],hi[i]]),encode:{x:0,y:[1,2]},
    renderItem:(p,api)=>{
      if(p.dataIndex!==0)return null;
      const pts=[];
      x.forEach((v,i)=>pts.push(api.coord([v,hi[i]])));
      for(let i=x.length-1;i>=0;i--)pts.push(api.coord([x[i],lo[i]]));
      return {type:'polygon',shape:{points:pts},style:{fill}};
    }});
}
function txt(s,x,y,size,opt){
  opt=opt||{};
  graphics.push({type:'text',x,y,rotation:opt.rot?Math.PI/2:0,z:100,silent:true,
    style:{text:s,fill:opt.fill||INK,font:(opt.bold?'bold ':'')+size+'px '+FONT,textAlign:opt.align||'center',textVerticalAlign:'middle',align:opt.align||'center',verticalAlign:'middle'}});
}
function timePanel(rect,ylim,yLabelAt,showY,xMargin,yMargin){
  const g=grid(...rect);
  const yLab=yLabelAt?ticksZ.map(String):null;
  return [addX(axis(g,'bottom',-2,10,ticksTime,labelsAtTimeAC,ticksTime.map(String),xMargin)),
          addY(axis(g,'left',ylim[0],ylim[1],ticksZ,yLabelAt||[],showY?yLab:null,yMargin))];
}

// panels A and C
const aL=timePanel([125,51,485,467],[-2,5],labelsAtZA,true,8,22);
const aR=timePanel([522,51,886,467],[-2,5],null,false,8,22);
const cL=timePanel([125,645,486,1026],[-2,5],labelsAtZC,true,12,22);
const cR=timePanel([522,645,886,1026],[-2,5],null,false,12,22);
[a1Tr1,a1Tr2,a1Tr3,a1Tr4,a1Tr5,a1Tr6,a1Tr7,a1Tr8].forEach(y=>line(aL,timeQ,y,LB,3,3));
band(aL,timeH,a1Lo,a1Hi,'rgba(42,120,181,0.2)',4);
line(aL,timeQ,a1Mean,BLUE,8,5);
dashed(aL,[0,0],[4.93,-2],'#000',7,[29,26],0,6);
[a2Tr1,a2Tr2,a2Tr3,a2Tr4,a2Tr5,a2Tr6,a2Tr7,a2Tr8].forEach(y=>line(aR,timeQ,y,LM,3,3));
band(aR,timeH,a2Lo,a2Hi,'rgba(250,12,240,0.2)',4);
line(aR,timeQ,a2Mean,MAG,8,5);
dashed(aR,[0,0],[4.93,-2],'#000',7,[29,26],0,6);
[c1Tr1,c1Tr2,c1Tr3,c1Tr4,c1Tr5,c1Tr6,c1Tr7].forEach(y=>line(cL,timeQ,y,LB,3,3));
band(cL,timeH,c1Lo,c1Hi,'rgba(42,120,181,0.2)',4);
line(cL,timeQ,c1Mean,BLUE,8,5);
dashed(cL,[0,0],[5,-2],'#000',7,[28,25],13,6);
[c2Tr1,c2Tr2,c2Tr3,c2Tr4,c2Tr5,c2Tr6,c2Tr7].forEach(y=>line(cR,timeQ,y,LM,3,3));
band(cR,timeH,c2Lo,c2Hi,'rgba(250,12,240,0.22)',4);
line(cR,timeQ,c2Mean,MAG,8,5);
dashed(cR,[0,0],[5,-2],'#000',7,[28,25],13,6);

// panel B
const rowsAll=b1Pink.map((v,i)=>i+1);
function heatPanel(rect,rows,labelY,dots){
  const hg=grid(...rect);
  const hx=addX({type:'category',gridIndex:hg,data:Array.from({length:56},(v,i)=>i),show:false});
  const hy=addY({type:'category',gridIndex:hg,inverse:true,data:rows.map((v,i)=>i+1),show:false});
  const d=[];
  rows.forEach((r,ri)=>{const s=r.replace(/ /g,'').padEnd(56,'3');for(let c=0;c<56;c++)d.push([c,ri,heatLevels[+s[c]]]);});
  series.push({type:'heatmap',xAxisIndex:hx,yAxisIndex:hy,data:d,silent:true,animation:false,z:1,itemStyle:{borderWidth:0},progressive:0});
  const hi=series.length-1;
  const og=grid(...rect);
  const ox=addX(axis(og,'bottom',-4,10,ticksTimeB,labelsAtTimeB,ticksTimeB.map(String),8));
  const oy=addY(axis(og,'left',.5,65.5,ticksTrials,labelsAtTrials,labelY?ticksTrials.map(String):null,4,{inverse:true}));
  addX(axis(og,'top',-4,10,ticksTimeB,[],null,0));
  addY(axis(og,'right',.5,65.5,ticksTrials,[],null,0,{inverse:true}));
  dots.forEach(([xs,ys,col,size])=>{
    const pts=[];xs.forEach((v,i)=>{if(v!==null)pts.push([v,ys[i]]);});
    series.push({type:'scatter',xAxisIndex:ox,yAxisIndex:oy,data:pts,symbol:'circle',symbolSize:size,silent:true,animation:false,z:3,itemStyle:{color:col,opacity:1},clip:true});
  });
  return hi;
}
const zeroCol65=rowsAll.map(()=>0);
const h1=heatPanel([1102,43,1467,462],heatDS,true,[[zeroCol65.slice(1,64),rowsAll.slice(1,64),'#a9d8ea',5],[b1Pink,rowsAll,'#e96fe9',5],[b1Black,rowsAll,'#000',6]]);
const h2=heatPanel([1515,43,1881,462],heatPE,false,[[b2Blue,rowsAll,'#a9d8ea',5],[zeroCol65.slice(1,64),rowsAll.slice(1,64),'#e96fe9',5],[b2Black,rowsAll,'#000',6]]);
// colour bar frame and its scale
const cbG=grid(1951,153,1985,351);
addX(axis(cbG,'bottom',0,1,[],[],null,0));
addX(axis(cbG,'top',0,1,[],[],null,0));
addY(axis(cbG,'left',-5,5,[],[],null,0));
addY(axis(cbG,'right',-5,5,[0],[-5,0,4.6],['-5','0','5'],6));

// panel D
const dG=grid(1108,616,1858,1024);
const dA=[addX(axis(dG,'bottom',-.598,1.601,dXTicks,dXLabelsAt,dXLabels,29,null,37)),addY(axis(dG,'left',-2.67,18.26,dYTicks,dYTicks,dYTicks.map(String),11))];
series.push({type:'bar',xAxisIndex:dA[0],yAxisIndex:dA[1],barWidth:308,silent:true,animation:false,z:2,
  data:[{value:[dXTicks[0],dBars[0]],itemStyle:{color:BLUE}},{value:[dXTicks[1],dBars[1]],itemStyle:{color:MAG}}]});
dashed(dA,[-.5,1.478],[0,0],'#000',7,[25,25],0,3);
[[dXTicks[0],dPointsDS,LB],[dXTicks[1],dPointsPE,LM]].forEach(([x,ys,c])=>{
  series.push({type:'scatter',xAxisIndex:dA[0],yAxisIndex:dA[1],data:ys.map(v=>[x,v]),symbol:'circle',symbolSize:22,silent:true,animation:false,z:4,itemStyle:{color:c,opacity:1}});
});
dXTicks.forEach((x,i)=>{
  line(dA,[x,x],[dErrLo[i],dErrHi[i]],'#000',6,5);
  line(dA,[x-.226,x+.226],[dErrLo[i],dErrLo[i]],'#000',7,5);
  line(dA,[x-.226,x+.226],[dErrHi[i],dErrHi[i]],'#000',7,5);
});
dPointsDS.forEach((v,i)=>line(dA,dXTicks,[v,dPointsPE[i]],'#9e9e9e',4,6));
line(dA,[0,0,.37],[8.55,18.62,18.62],INK,3.5,7,{clip:false});
line(dA,[.548,1],[18.62,18.62],INK,3.5,7,{clip:false});
series.push({type:'scatter',xAxisIndex:dA[0],yAxisIndex:dA[1],symbolSize:0,silent:true,animation:false,z:8,clip:false,
  data:[{value:[.464,18.3],label:{formatter:'**'}},{value:[1.005,11.45],label:{formatter:'***'}}],
  label:{show:true,position:'inside',color:'#000',fontFamily:FONT,fontWeight:'bold',fontSize:42}});

// panel E
const eG=grid(134,1185,893,1596);
const eA=[addX(axis(eG,'bottom',-2,10,ticksTime,labelsAtTimeE,ticksTime.map(String),14)),addY(axis(eG,'left',-2,5,ticksZ,labelsAtZE,ticksZ.map(String),22))];
[eTrue1,eTrue2,eTrue3,eTrue4,eTrue5,eTrue6].forEach(y=>line(eA,timeQ,y,LB,3,3));
[ePred1,ePred2,ePred3,ePred4,ePred5,ePred6].forEach(y=>line(eA,timeQ,y,LG,3,3));
band(eA,timeH,eTrueLo,eTrueHi,'rgba(42,120,181,0.2)',4);
band(eA,timeH,ePredLo,ePredHi,'rgba(70,70,70,0.25)',4);
line(eA,timeQ,eTrueMean,BLUE,8,5);
line(eA,timeQ,ePredMean,DG,8,6);

// panel F
const fG=grid(1110,1202,1845,1596);
const fA=[addX(axis(fG,'bottom',-2,5,[0,2,4],labelsAtTimeF,['0','2','4'],14)),addY(axis(fG,'left',-.5,.5,[.5],[-.5,-.013,.487],['-0.5','0','0.5'],12))];
[fB1,fB2,fB3,fB4,fB5,fB6,fB7,fB8].forEach(y=>line(fA,timeF,y,LB,3,3));
[fG1,fG2,fG3,fG4,fG5,fG6,fG7,fG8].forEach(y=>line(fA,timeF,y,LG,3,3));
band(fA,timeFB,fULo,fUHi,'rgba(42,120,181,0.2)',4);
band(fA,timeFB,fSLo,fSHi,'rgba(70,70,70,0.25)',4);
dashed(fA,[0,0],[.5,-.5],'#000',4.5,[25,25],31,5);
dashed(fA,[2.04,2.04],[.5,-.5],'#3d3d9e',5.5,[13,7],0,5);
line(fA,fUTime,fUVal,BLUE,7,6);
line(fA,fSTime,fSVal,DG,7,7);

// titles, axis names, panel letters, legends
[['DS',294,24],['Port-Entry',714,24],['DS',1277,24],['Port-Entry',1690,24],['DS',295,614],['Port-Entry',714,614]].forEach(t=>txt(t[0],t[1],t[2],t[0]==='DS'?39:41,{bold:true,fill:'#000'}));
[['A',13,18],['B',992,18],['C',13,615],['D',992,615],['E',12,1201],['F',991,1201]].forEach(t=>txt(t[0],t[1],t[2],33,{bold:true,fill:'#000'}));
[['Time from DS (s)',315,547],['Time from Port-Entry (s)',714,547],['Time from DS (s)',1278,547],['Time from Port-Entry (s)',1686,547],['Time from DS (s)',296,1113],['Time from Port-Entry (s)',714,1113],['Time from DS onset (s)',492,1688],['Time from DS onset (s)',1464,1688]].forEach(t=>txt(t[0],t[1],t[2],37.7));
[['GCaMP (Z-Score)',24,310,38],['Correlation Coefficient',24,851,37.7],['Trials Sorted by Latency',997,272,37.5],['GCaMP (Z-Score)',1928,245,37],['AUC of Coefficients',998,835,37.2],['GCaMP (Z-Score)',24,1449,38],['Correlation Coefficient',996,1426,37]].forEach(t=>txt(t[0],t[1],t[2],t[3],{rot:true}));
txt('True',180,1217,37.4,{bold:true,fill:BLUE,align:'left'});
txt('Predicted',180,1262,37.4,{bold:true,fill:'#000',align:'left'});
txt('Unshuffled',1154,1222,37.7,{bold:true,fill:BLUE,align:'left'});
txt('Shuffled',1154,1267,37.7,{bold:true,fill:'#000',align:'left'});

const chart=echarts.init(document.getElementById('c'),null,{renderer:'canvas',width:2018,height:1706});
chart.setOption({
  animation:false,backgroundColor:'#fff',
  grid:grids,xAxis:xAxes,yAxis:yAxes,series,
  visualMap:[{type:'continuous',min:-5,max:5,seriesIndex:[h1,h2],inRange:{color:parula},left:1951,top:153,itemWidth:34,itemHeight:198,calculable:false,show:true,text:['',''],showLabel:false,hoverLink:false,z:4,padding:0}],
  graphic:{elements:graphics}
});
</script></body></html>
